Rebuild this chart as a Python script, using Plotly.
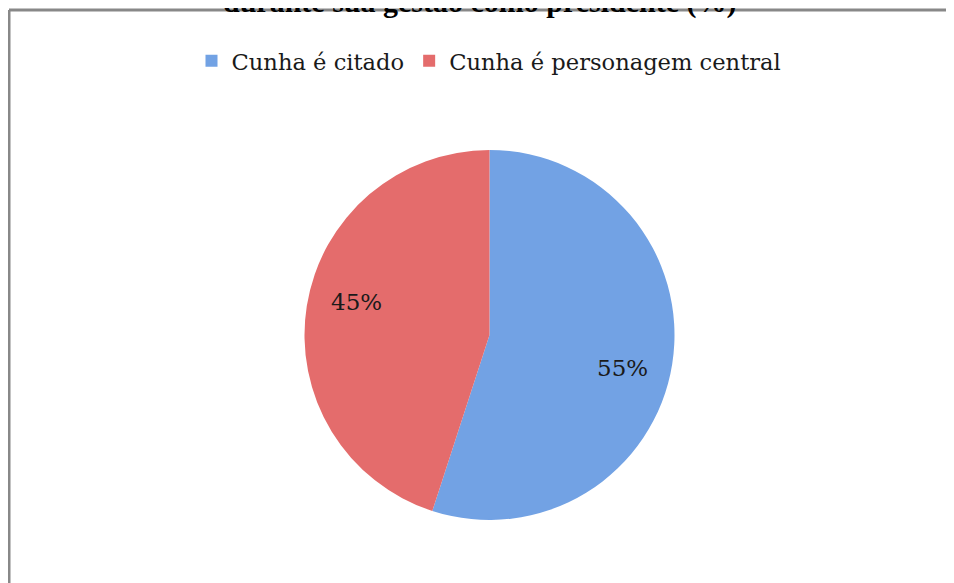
import math
import plotly.graph_objects as go

# dados do gráfico
categorias = ["Cunha é citado", "Cunha é personagem central"]
valores = [55, 45]
cores = ["#72a2e4", "#e46c6c"]
titulo = "durante sua gestão como presidente (%)"

# a página tem 8px de margem no body, então a figura é 8px menor
OFF = 8
W, H = 954 - OFF, 583 - OFF


def px(x):
    return (x - OFF) / W


def py(y):
    return 1 - (y - OFF) / H


# posição da pizza na tela
cx, cy, r = 489.5, 335, 185

fig = go.Figure()

fig.add_trace(go.Pie(
    labels=categorias,
    values=valores,
    sort=False,
    direction="clockwise",
    rotation=0,
    marker=dict(colors=cores, line=dict(width=0)),
    textinfo="none",
    domain=dict(x=[px(cx - r), px(cx + r)], y=[py(cy + r), py(cy - r)]),
    hoverinfo="label+percent",
))

# rótulos de porcentagem no ângulo médio de cada fatia
total = sum(valores)
acum = 0
for v in valores:
    meio = (acum + v / 2) / total * 2 * math.pi
    acum += v
    rx = cx + 0.74 * r * math.sin(meio + 0.09)
    ry = cy - 0.74 * r * math.cos(meio + 0.09)
    fig.add_annotation(
        text=f"{round(v / total * 100)}%",
        xref="paper", yref="paper",
        x=px(rx), y=py(ry),
        xanchor="center", yanchor="middle",
        showarrow=False,
        font=dict(family="DejaVu Serif", size=23, color="#1a1a1a"),
    )

# moldura cinza (só topo e lado esquerdo aparecem na imagem)
borda = dict(color="#888888", width=3)
fig.add_shape(type="line", xref="paper", yref="paper",
              x0=px(9), x1=1.0, y0=py(10), y1=py(10), line=borda)
fig.add_shape(type="line", xref="paper", yref="paper",
              x0=px(9), x1=px(9), y0=0.0, y1=py(10), line=borda)

# título (parcialmente cortado no topo)
fig.add_annotation(
    text="<b>" + titulo + "</b>",
    xref="paper", yref="paper",
    x=px(480), y=py(21),
    xanchor="center", yanchor="bottom",
    showarrow=False,
    font=dict(family="Liberation Serif", size=30, color="#000000"),
)

fig.update_layout(
    width=W, height=H,
    margin=dict(l=0, r=0, t=0, b=0),
    paper_bgcolor="white",
    plot_bgcolor="white",
    showlegend=True,
    legend=dict(
        orientation="h",
        x=px(489), xanchor="center",
        y=py(61), yanchor="middle",
        font=dict(family="DejaVu Serif", size=22.6, color="#1a1a1a"),
        itemwidth=30,
        traceorder="normal",
    ),
)

fig.write_html("out.html")
